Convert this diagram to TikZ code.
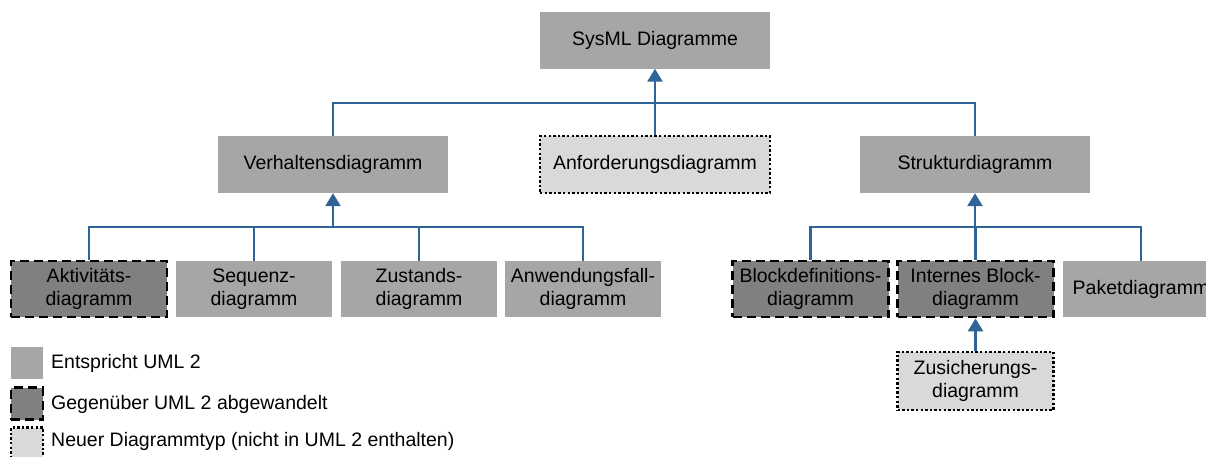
\documentclass[tikz,border=0pt]{standalone}
\usepackage{fontspec}
\setmainfont{Liberation Sans}
\usetikzlibrary{arrows.meta}
\definecolor{uml}{HTML}{A6A6A6}
\definecolor{umlmod}{HTML}{808080}
\definecolor{umlnew}{HTML}{D9D9D9}
\definecolor{link}{HTML}{2E6497}
\tikzset{
  diag/.style={rectangle, inner sep=0pt, align=center, text=black,
    font=\fontsize{19.5pt}{23pt}\selectfont},
  wide/.style={diag, minimum width=230pt, minimum height=57pt},
  small/.style={diag, minimum width=156pt, minimum height=56pt},
  same/.style={fill=uml},
  changed/.style={fill=umlmod, draw=black, line width=2.8pt, dash pattern=on 9pt off 5pt},
  newtype/.style={fill=umlnew, draw=black, line width=2.6pt, dash pattern=on 2.4pt off 2.2pt},
  bus/.style={draw=link, line width=2.6pt},
  gen/.style={draw=link, line width=2.6pt, -{Triangle[width=15pt,length=13pt]}},
  key/.style={rectangle, inner sep=0pt, minimum size=32pt},
  keytext/.style={anchor=west, inner sep=0pt, font=\fontsize{19.5pt}{23pt}\selectfont}
}
\begin{document}
\begin{tikzpicture}[x=1pt, y=-1pt]
\useasboundingbox (0,0) rectangle (1206,456);
\begin{scope}
\clip (0,0) rectangle (1206,456);

% top level
\node[wide, same] (sysml) at (655,40) {SysML Diagramme};

% second level
\node[wide, same] (verh) at (333,164.5) {Verhaltensdiagramm};
\node[wide, newtype] (anf) at (655,164.5) {Anforderungsdiagramm};
\node[wide, same] (strukt) at (975,164.5) {Strukturdiagramm};

% behaviour diagrams
\node[small, changed] (akt) at (89,289) {Aktivitäts-\\diagramm};
\node[small, same] (seq) at (254,289) {Sequenz-\\diagramm};
\node[small, same] (zus) at (419,289) {Zustands-\\diagramm};
\node[small, same] (anw) at (583,289) {Anwendungsfall-\\diagramm};

% structure diagrams
\node[small, changed] (bdd) at (810.5,289) {Blockdefinitions-\\diagramm};
\node[small, changed] (ibd) at (975.5,289) {Internes Block-\\diagramm};
\node[small, same] (pkg) at (1141,289) {Paketdiagramm};
\node[small, newtype, minimum height=58pt] (par) at (975.5,381) {Zusicherungs-\\diagramm};

% junctions
\coordinate (topj) at (655,103);
\coordinate (vj) at (333,227);
\coordinate (sj) at (975,227);

% generalisation to SysML Diagramme
\draw[bus] (verh.north) -- (verh.north |- topj) -- (strukt.north |- topj) -- (strukt.north);
\draw[bus] (anf.north) -- (topj);
\draw[gen] (topj) -- (sysml.south);

% generalisation to Verhaltensdiagramm
\draw[bus] (akt.north) -- (akt.north |- vj) -- (anw.north |- vj) -- (anw.north);
\draw[bus] (seq.north) -- (seq.north |- vj);
\draw[bus] (zus.north) -- (zus.north |- vj);
\draw[gen] (vj) -- (verh.south);

% generalisation to Strukturdiagramm
\draw[bus] (bdd.north) -- (bdd.north |- sj) -- (pkg.north |- sj) -- (pkg.north);
\draw[bus] (ibd.north) -- (ibd.north |- sj);
\draw[gen] (sj) -- (strukt.south);

% Zusicherungsdiagramm specialises Internes Blockdiagramm
\draw[gen] (par.north) -- (ibd.south);

% legend
\node[key, same] (k1) at (27,363) {};
\node[key, changed] (k2) at (27,403.5) {};
\node[key, newtype] (k3) at (27,443.5) {};
\node[keytext] (t1) at (51,363) {Entspricht UML 2};
\node[keytext] (t2) at (51,404) {Gegenüber UML 2 abgewandelt};
\node[keytext] (t3) at (51,441) {Neuer Diagrammtyp (nicht in UML 2 enthalten)};
\end{scope}
\end{tikzpicture}
\end{document}
